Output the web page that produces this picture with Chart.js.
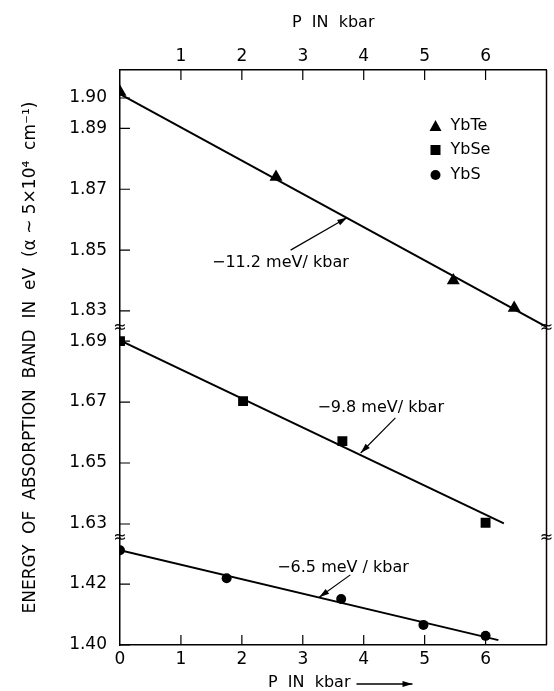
<!DOCTYPE html>
<html>
<head>
<meta charset="utf-8">
<script src="https://cdn.jsdelivr.net/npm/chart.js@4.4.1/dist/chart.umd.min.js"></script>
<style>
  body { margin: 0; background: #fff; }
  #wrap { width: 554px; height: 691px; position: relative; }
</style>
</head>
<body>
<div id="wrap"><canvas id="chart"></canvas></div>
<script>
// pressure (kbar) and band energy (eV)
var teP = [0, 2.56, 5.47, 6.47];
var teE = [1.902, 1.874, 1.840, 1.831];
var seP = [0, 2.02, 3.65, 6.0];
var seE = [1.690, 1.6703, 1.6572, 1.6304];
var sP = [0, 1.75, 3.63, 4.98, 6.0];
var sE = [1.4311, 1.4219, 1.4151, 1.4066, 1.4030];

// fitted straight lines, end points
var teFitP = [0, 7];
var teFitE = [1.9013, 1.8248];
var seFitP = [0, 6.3];
var seFitE = [1.6902, 1.6302];
var sFitP = [0, 6.21];
var sFitE = [1.4311, 1.4016];

// tick labels
var xBottomTicks = [0, 1, 2, 3, 4, 5, 6];
var xTopTicks = [1, 2, 3, 4, 5, 6];
var teTicks = [1.83, 1.85, 1.87, 1.89, 1.90];
var seTicks = [1.63, 1.65, 1.67, 1.69];
var sTicks = [1.40, 1.42];

var names = ["YbTe", "YbSe", "YbS"];
var slopes = ["\u221211.2 meV/ kbar", "\u22129.8 meV/ kbar", "\u22126.5 meV / kbar"];

var FONT = "'DejaVu Sans', sans-serif";

function pts(xs, ys) {
  return xs.map(function (v, i) { return { x: v, y: ys[i] }; });
}
function fixTicks(list) {
  return function (s) { s.ticks = list.map(function (v) { return { value: v }; }); };
}

// slope notes: text start and arrow, in data units of each panel
var notes = [
  { axis: "yTe", text: slopes[0], tx: 1.51, ty: 1.8458, from: [2.80, 1.8500], to: [3.73, 1.8607] },
  { axis: "ySe", text: slopes[1], tx: 3.24, ty: 1.6681, from: [4.52, 1.6648], to: [3.95, 1.6533] },
  { axis: "yS", text: slopes[2], tx: 2.58, ty: 1.4253, from: [3.78, 1.4230], to: [3.27, 1.4157] }
];

function arrow(ctx, x0, y0, x1, y1) {
  var ang = Math.atan2(y1 - y0, x1 - x0);
  ctx.beginPath();
  ctx.moveTo(x0, y0);
  ctx.lineTo(x1, y1);
  ctx.stroke();
  ctx.beginPath();
  ctx.moveTo(x1, y1);
  ctx.lineTo(x1 - 10 * Math.cos(ang) + 3 * Math.sin(ang), y1 - 10 * Math.sin(ang) - 3 * Math.cos(ang));
  ctx.lineTo(x1 - 10 * Math.cos(ang) - 3 * Math.sin(ang), y1 - 10 * Math.sin(ang) + 3 * Math.cos(ang));
  ctx.closePath();
  ctx.fill();
}

var decor = {
  id: "decor",
  afterDraw: function (chart) {
    var ctx = chart.ctx, a = chart.chartArea;
    var x = chart.scales.x, sc = chart.scales;
    var panels = [sc.yTe, sc.ySe, sc.yS];
    ctx.save();
    ctx.strokeStyle = "#000";
    ctx.fillStyle = "#000";

    // right side of the frame
    ctx.lineWidth = 1.5;
    ctx.beginPath();
    ctx.moveTo(a.right, a.top);
    ctx.lineTo(a.right, a.bottom);
    ctx.stroke();

    // inward tick marks
    ctx.lineWidth = 1.2;
    ctx.beginPath();
    xBottomTicks.forEach(function (v) {
      if (v === 0) return;
      var px = x.getPixelForValue(v);
      ctx.moveTo(px, a.bottom);
      ctx.lineTo(px, a.bottom - 10);
    });
    xTopTicks.forEach(function (v) {
      var px = sc.x2.getPixelForValue(v);
      ctx.moveTo(px, a.top);
      ctx.lineTo(px, a.top + 10);
    });
    panels.forEach(function (s) {
      s.ticks.forEach(function (t) {
        var py = s.getPixelForValue(t.value);
        ctx.moveTo(a.left, py);
        ctx.lineTo(a.left + 10, py);
      });
    });
    ctx.stroke();

    // axis breaks
    ctx.font = "16px " + FONT;
    ctx.textAlign = "center";
    ctx.textBaseline = "middle";
    [panels[0].bottom, panels[1].bottom].forEach(function (py) {
      ctx.fillText("\u2248", a.left, py);
      ctx.fillText("\u2248", a.right, py);
    });

    // legend
    var lx = a.right - 111, ly = [a.top + 56, a.top + 80, a.top + 105];
    ctx.beginPath();
    ctx.moveTo(lx, ly[0] - 6);
    ctx.lineTo(lx + 6, ly[0] + 5);
    ctx.lineTo(lx - 6, ly[0] + 5);
    ctx.closePath();
    ctx.fill();
    ctx.fillRect(lx - 5, ly[1] - 5, 10, 10);
    ctx.beginPath();
    ctx.arc(lx, ly[2], 5, 0, Math.PI * 2);
    ctx.fill();
    ctx.textAlign = "left";
    ctx.font = "16px " + FONT;
    names.forEach(function (n, i) { ctx.fillText(n, lx + 15, ly[i]); });

    // slope notes
    ctx.lineWidth = 1.2;
    notes.forEach(function (n) {
      var ys = sc[n.axis];
      ctx.fillText(n.text, x.getPixelForValue(n.tx), ys.getPixelForValue(n.ty));
      arrow(ctx, x.getPixelForValue(n.from[0]), ys.getPixelForValue(n.from[1]),
        x.getPixelForValue(n.to[0]), ys.getPixelForValue(n.to[1]));
    });

    // bottom axis title with arrow
    ctx.font = "16px " + FONT;
    var bx = a.left + 148, by = chart.height - 8;
    ctx.fillText("P  IN  kbar", bx, by);
    var w = ctx.measureText("P  IN  kbar").width;
    ctx.lineWidth = 1.5;
    arrow(ctx, bx + w + 6, by + 1, bx + w + 62, by + 1);

    // y axis title
    ctx.translate(31, (a.top + a.bottom) / 2);
    ctx.rotate(-Math.PI / 2);
    ctx.textAlign = "center";
    ctx.font = "17px " + FONT;
    ctx.fillText("ENERGY  OF  ABSORPTION  BAND  IN  eV  (\u03b1 ~ 5\u00d710\u2074  cm\u207b\u00b9)", 0, 0);
    ctx.restore();
  }
};

var tickFont = { family: FONT, size: 17 };
var border = { display: true, color: "#000", width: 1.5 };
var noGrid = { display: false, drawTicks: false };

function yPanel(min, max, weight, list) {
  return {
    type: "linear", position: "left", stack: "energy", stackWeight: weight,
    min: min, max: max,
    grid: noGrid, border: border,
    ticks: { color: "#000", font: tickFont, padding: 13, autoSkip: false,
      callback: function (v) { return v.toFixed(2); } },
    afterBuildTicks: fixTicks(list),
    afterFit: function (s) { s.width = 120; }
  };
}

function lineSet(xs, ys, axis) {
  return { data: pts(xs, ys), yAxisID: axis, showLine: true, borderColor: "#000",
    borderWidth: 2, pointRadius: 0, fill: false };
}
function pointSet(label, xs, ys, axis, style, r) {
  return { label: label, data: pts(xs, ys), yAxisID: axis, showLine: false,
    pointStyle: style, pointRadius: r, backgroundColor: "#000", borderColor: "#000", borderWidth: 0 };
}

new Chart(document.getElementById("chart"), {
  type: "scatter",
  data: {
    datasets: [
      pointSet(names[0], teP, teE, "yTe", "triangle", 7.5),
      pointSet(names[1], seP, seE, "ySe", "rect", 7),
      pointSet(names[2], sP, sE, "yS", "circle", 5),
      lineSet(teFitP, teFitE, "yTe"),
      lineSet(seFitP, seFitE, "ySe"),
      lineSet(sFitP, sFitE, "yS")
    ]
  },
  options: {
    responsive: true,
    maintainAspectRatio: false,
    animation: false,
    layout: { padding: { left: 0, right: 2, top: 0, bottom: 0 } },
    plugins: { legend: { display: false }, tooltip: { enabled: false } },
    scales: {
      x: {
        type: "linear", position: "bottom", min: 0, max: 7,
        grid: noGrid, border: border,
        ticks: { color: "#000", font: tickFont, padding: 4, autoSkip: false, maxRotation: 0 },
        afterBuildTicks: fixTicks(xBottomTicks),
        afterFit: function (s) { s.height = 46; }
      },
      x2: {
        type: "linear", position: "top", min: 0, max: 7,
        grid: noGrid, border: border,
        ticks: { color: "#000", font: tickFont, padding: 3, autoSkip: false, maxRotation: 0 },
        title: { display: true, text: "P  IN  kbar", color: "#000", font: { family: FONT, size: 16 },
          padding: { top: 13, bottom: 0 } },
        afterBuildTicks: fixTicks(xTopTicks),
        afterFit: function (s) { s.height = 70; }
      },
      yS: yPanel(1.40, 1.4351, 107, sTicks),
      ySe: yPanel(1.6254, 1.6943, 210, seTicks),
      yTe: yPanel(1.8244, 1.9092, 258, teTicks)
    }
  },
  plugins: [decor]
});
</script>
</body>
</html>
